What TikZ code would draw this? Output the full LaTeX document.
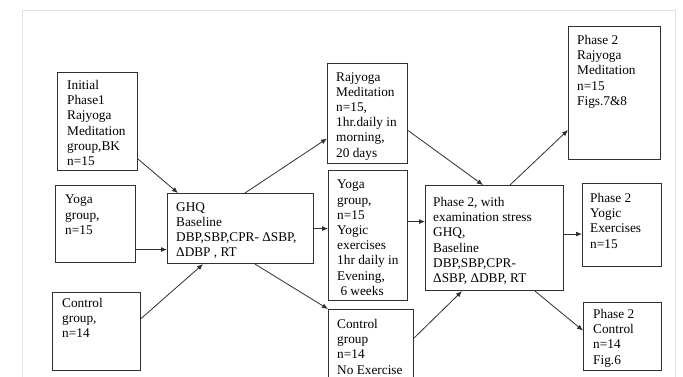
\documentclass[tikz,border=0pt]{standalone}
\usepackage{fontspec}
\setmainfont{Liberation Serif}
\usepackage{xcolor}
\usetikzlibrary{arrows.meta,positioning}
\definecolor{ink}{HTML}{303030}
\definecolor{frame}{HTML}{E2E2E2}

\begin{document}
\begin{tikzpicture}[
  x=1pt,y=-1pt,
  box/.style={draw=ink,line width=1.1pt,anchor=north west,inner sep=0pt},
  txt/.style={anchor=north west,align=left,inner sep=0pt,
              font=\fontsize{13.3}{15.2}\selectfont},
  arr/.style={-{Latex[length=6pt,width=5pt]},draw=ink,line width=0.8pt}
]
\useasboundingbox (0,0) rectangle (683,376);
\clip (0,0) rectangle (683,376);
\fill[white] (0,0) rectangle (683,376);
\draw[frame,line width=1pt] (22,380) -- (22,10) -- (675,10) -- (675,380);

% first column
\node[box,minimum width=80,minimum height=98] (init) at (57,72) {};
\node[txt,below right=8pt and 10pt of init.north west] (initT)
     {Initial\\Phase1\\Rajyoga\\Meditation\\group,BK\\n=15};
\node[box,minimum width=80,minimum height=77] (yoga) at (55,185) {};
\node[txt,below right=10pt and 10pt of yoga.north west] (yogaT)
     {Yoga\\group,\\n=15};
\node[box,minimum width=88,minimum height=78] (ctrl) at (52,292) {};
\node[txt,below right=6pt and 10pt of ctrl.north west] (ctrlT)
     {Control\\group,\\n=14};

% baseline
\node[box,minimum width=146,minimum height=70] (ghq) at (167,193) {};
\node[txt,below right=9pt and 9pt of ghq.north west] (ghqT)
     {GHQ\\Baseline\\DBP,SBP,CPR- ΔSBP,\\ΔDBP , RT};

% interventions
\node[box,minimum width=80,minimum height=100] (raj) at (327,63) {};
\node[txt,below right=9pt and 9pt of raj.north west] (rajT)
     {Rajyoga\\Meditation\\n=15,\\1hr.daily in\\morning,\\20 days};
\node[box,minimum width=79,minimum height=130] (yogam) at (328,170) {};
\node[txt,below right=10pt and 9pt of yogam.north west] (yogamT)
     {Yoga\\group,\\n=15\\Yogic\\exercises\\1hr daily in\\Evening,\\\ 6 weeks};
\node[box,minimum width=85,minimum height=80] (ctrlm) at (328,309) {};
\node[txt,below right=10pt and 9pt of ctrlm.north west] (ctrlmT)
     {Control\\group\\n=14\\No Exercise};

% phase 2
\node[box,minimum width=138,minimum height=105] (ph2) at (425,185) {};
\node[txt,below right=12pt and 8pt of ph2.north west] (ph2T)
     {Phase 2, with\\examination stress\\GHQ,\\Baseline\\DBP,SBP,CPR-\\ΔSBP, ΔDBP, RT};
\node[box,minimum width=92,minimum height=133] (praj) at (568,26) {};
\node[txt,below right=9pt and 9pt of praj.north west] (prajT)
     {Phase 2\\Rajyoga\\Meditation\\n=15\\Figs.7\&8};
\node[box,minimum width=79,minimum height=83] (pyog) at (582,183) {};
\node[txt,below right=10pt and 8pt of pyog.north west] (pyogT)
     {Phase 2\\Yogic\\Exercises\\n=15};
\node[box,minimum width=78,minimum height=68] (pctrl) at (583,302) {};
\node[txt,below right=7pt and 10pt of pctrl.north west] (pctrlT)
     {Phase 2\\Control\\n=14\\Fig.6};

% connectors
\coordinate (yg) at ([yshift=-25.5pt]yoga.east);
\coordinate (ym) at ([yshift=14pt]yogam.east);
\coordinate (pm) at ([yshift=4pt]ph2.east);
\draw[arr] ([yshift=12pt]init.south east) -- ([xshift=11pt]ghq.north west);
\draw[arr] (yg) -- (yg -| ghq.west);
\draw[arr] ([yshift=13pt]ctrl.east) -- ([xshift=36pt]ghq.south west);
\draw[arr] ([xshift=78pt]ghq.north west) -- ([yshift=-25pt]raj.west);
\draw[arr] (ghq.east) -- (ghq.east -| yogam.west);
\draw[arr] ([xshift=88pt]ghq.south west) -- (ctrlm.north west);
\draw[arr] ([yshift=-17pt]raj.east) -- ([xshift=58pt]ph2.north west);
\draw[arr] (ym) -- (ym -| ph2.west);
\draw[arr] ([yshift=-29pt]ctrlm.north east) -- ([xshift=37pt]ph2.south west);
\draw[arr] ([xshift=85pt]ph2.north west) -- ([yshift=-37pt]praj.west);
\draw[arr] (pm) -- (pm -| pyog.west);
\draw[arr] ([xshift=110pt]ph2.south west) -- ([yshift=6pt]pctrl.west);
\end{tikzpicture}
\end{document}
